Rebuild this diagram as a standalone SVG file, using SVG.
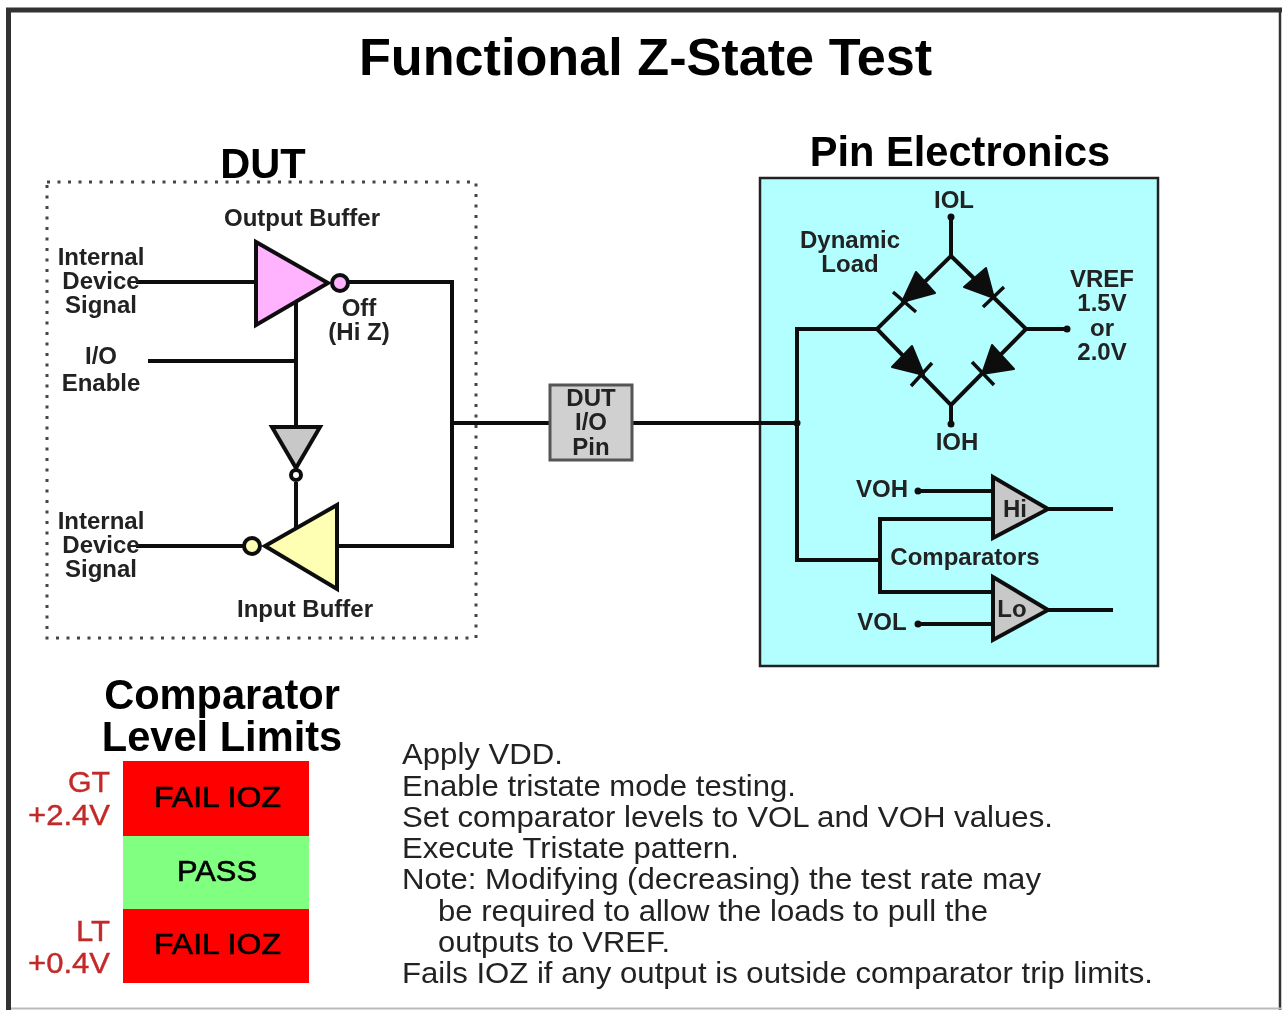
<svg xmlns="http://www.w3.org/2000/svg" width="1282" height="1010" viewBox="0 0 1282 1010">
<style>
text{font-family:"Liberation Sans",Arial,sans-serif;fill:#111}
.l{font-size:24px;font-weight:700;text-anchor:middle;fill:#222}
.h{font-size:41.600px;font-weight:700;text-anchor:middle;fill:#000}
.s{font-size:29px;text-anchor:start;fill:#222}
.r{font-size:29px;text-anchor:end;fill:#c22a2a;stroke:#c22a2a;stroke-width:.4}
.b{font-size:29px;text-anchor:middle;fill:#000;stroke:#000;stroke-width:.6}
.w{fill:none;stroke:#111;stroke-width:4}
.t{fill:none;stroke:#111;stroke-width:4}
.g{stroke:#111;stroke-width:4;stroke-linejoin:miter}
.d{fill:#111}
</style>
<defs><filter id="soft" x="0" y="0" width="100%" height="100%"><feGaussianBlur stdDeviation="0.5"/></filter></defs>
<g filter="url(#soft)">
<rect width="1282" height="1010" fill="#fff"/>
<g id="frame" fill="none">
<path d="M1280 10V1010" stroke="#333" stroke-width="2.500"/>
<path d="M9 1008.500H1282" stroke="#bbb" stroke-width="2"/>
<path d="M8.500 1010V10H1282" stroke="#333" stroke-width="5"/>
</g>
<text class="h" x="645.500" y="75" style="font-size:52.200px">Functional Z-State Test</text>
<g id="dut">
<rect x="47" y="182" width="429" height="456" fill="none" stroke="#444" stroke-width="3" stroke-dasharray="3 7.500"/>
<text class="h" x="263" y="178">DUT</text>
</g>
<g id="pin-electronics">
<rect x="760" y="178" width="398" height="488" fill="#b3ffff" stroke="#222" stroke-width="2.500"/>
<text class="h" x="960" y="166">Pin Electronics</text>
</g>
<g id="connectors">
<path class="w" d="M136 282H256M348 282H452V546H338M452 423H550M633 423H797M148 361H296M296 301V428M296 482V530M136 546H244"/>
<path class="w" d="M797 423V329H877M797 423V560H880M880 519V592M878 519H993M878 592H993"/>
<path class="t" d="M951 216V256L877 329L951 405V425M951 256L1026 329H1067M1026 329L951 405"/>
<path class="t" d="M918 491H993M918 624H993M1048 509H1113M1048 610H1113"/>
<circle class="d" cx="797" cy="423" r="3.500"/><circle class="d" cx="951" cy="217" r="3.500"/><circle class="d" cx="951" cy="424" r="3.500"/><circle class="d" cx="1067" cy="329" r="3.500"/><circle class="d" cx="918" cy="491" r="3.500"/><circle class="d" cx="918" cy="624" r="3.500"/>
</g>
<g id="output-buffer">
<path class="g" d="M256 242V325L328 283Z" fill="#ffb3ff"/>
<circle class="g" cx="340" cy="283" r="8" fill="#ffb3ff"/>
<text class="l" x="302" y="226">Output Buffer</text>
<text class="l" x="359" y="316">Off</text><text class="l" x="359" y="340">(Hi Z)</text>
</g>
<g id="input-buffer">
<path class="g" d="M337 505V589L265 546Z" fill="#ffffb3"/>
<circle class="g" cx="252" cy="546" r="8" fill="#ffffb3"/>
<text class="l" x="305" y="617">Input Buffer</text>
</g>
<g id="inverter">
<path class="g" d="M272 427H320L296 468Z" fill="#c8c8c8"/>
<circle class="g" cx="296" cy="475" r="5" fill="#fff"/>
</g>
<g id="dut-labels">
<text class="l" x="101" y="265">Internal</text><text class="l" x="101" y="289">Device</text><text class="l" x="101" y="313">Signal</text>
<text class="l" x="101" y="364">I/O</text><text class="l" x="101" y="391">Enable</text>
<text class="l" x="101" y="529">Internal</text><text class="l" x="101" y="553">Device</text><text class="l" x="101" y="577">Signal</text>
</g>
<g id="dut-io-pin">
<rect x="550" y="385" width="82" height="75" fill="#d0d0d0" stroke="#555" stroke-width="3"/>
<text class="l" x="591" y="406">DUT</text><text class="l" x="591" y="430">I/O</text><text class="l" x="591" y="455">Pin</text>
</g>
<g id="diodes">
<path class="d" stroke="#111" stroke-width="2" stroke-linejoin="round" d="M916 272L935 293L902 302ZM986 268L994 298L964 287ZM912 346L924 375L892 367ZM992 345L1014 369L982 374Z"/>
<path class="t" style="stroke-width:3.500" d="M893 292L916 312M983 307L1004 287M911 386L932 363M972 362L994 385"/>
</g>
<g id="dynamic-load">
<text class="l" x="850" y="248">Dynamic</text><text class="l" x="850" y="272">Load</text>
<text class="l" x="954" y="208">IOL</text><text class="l" x="957" y="450">IOH</text>
<text class="l" x="1102" y="287">VREF</text><text class="l" x="1102" y="311">1.5V</text><text class="l" x="1102" y="336">or</text><text class="l" x="1102" y="360">2.0V</text>
</g>
<g id="comparator-hi">
<path class="g" d="M993 477V538L1048 509Z" fill="#c8c8c8"/>
<text class="l" x="1015" y="517">Hi</text>
<text class="l" x="882" y="497">VOH</text>
</g>
<g id="comparator-lo">
<path class="g" d="M993 577V640L1048 610Z" fill="#c8c8c8"/>
<text class="l" x="1012" y="617">Lo</text>
<text class="l" x="882" y="630">VOL</text>
</g>
<text class="l" x="965" y="565">Comparators</text>
<g id="limits">
<text class="h" x="222" y="709">Comparator</text><text class="h" x="222" y="751">Level Limits</text>
<rect x="123" y="761" width="186" height="75" fill="#f00"/>
<rect x="123" y="836" width="186" height="73" fill="#80ff80"/>
<rect x="123" y="909" width="186" height="74" fill="#f00"/>
<text class="b" x="217.500" y="807" textLength="127" lengthAdjust="spacingAndGlyphs">FAIL IOZ</text><text class="b" x="217" y="881" textLength="80" lengthAdjust="spacingAndGlyphs">PASS</text><text class="b" x="217.500" y="954" textLength="127" lengthAdjust="spacingAndGlyphs">FAIL IOZ</text>
<text class="r" x="110" y="792" textLength="42" lengthAdjust="spacingAndGlyphs">GT</text><text class="r" x="110" y="825" textLength="82" lengthAdjust="spacingAndGlyphs">+2.4V</text>
<text class="r" x="110" y="941" textLength="34" lengthAdjust="spacingAndGlyphs">LT</text><text class="r" x="110" y="973" textLength="82" lengthAdjust="spacingAndGlyphs">+0.4V</text>
</g>
<g id="notes">
<text class="s" x="402" y="764" textLength="161" lengthAdjust="spacingAndGlyphs">Apply VDD.</text>
<text class="s" x="402" y="796" textLength="394" lengthAdjust="spacingAndGlyphs">Enable tristate mode testing.</text>
<text class="s" x="402" y="827" textLength="651" lengthAdjust="spacingAndGlyphs">Set comparator levels to VOL and VOH values.</text>
<text class="s" x="402" y="858" textLength="337" lengthAdjust="spacingAndGlyphs">Execute Tristate pattern.</text>
<text class="s" x="402" y="889" textLength="639" lengthAdjust="spacingAndGlyphs">Note: Modifying (decreasing) the test rate may</text>
<text class="s" x="438" y="921" textLength="550" lengthAdjust="spacingAndGlyphs">be required to allow the loads to pull the</text>
<text class="s" x="438" y="952" textLength="232" lengthAdjust="spacingAndGlyphs">outputs to VREF.</text>
<text class="s" x="402" y="983" textLength="751" lengthAdjust="spacingAndGlyphs">Fails IOZ if any output is outside comparator trip limits.</text>
</g>
</g>
</svg>
